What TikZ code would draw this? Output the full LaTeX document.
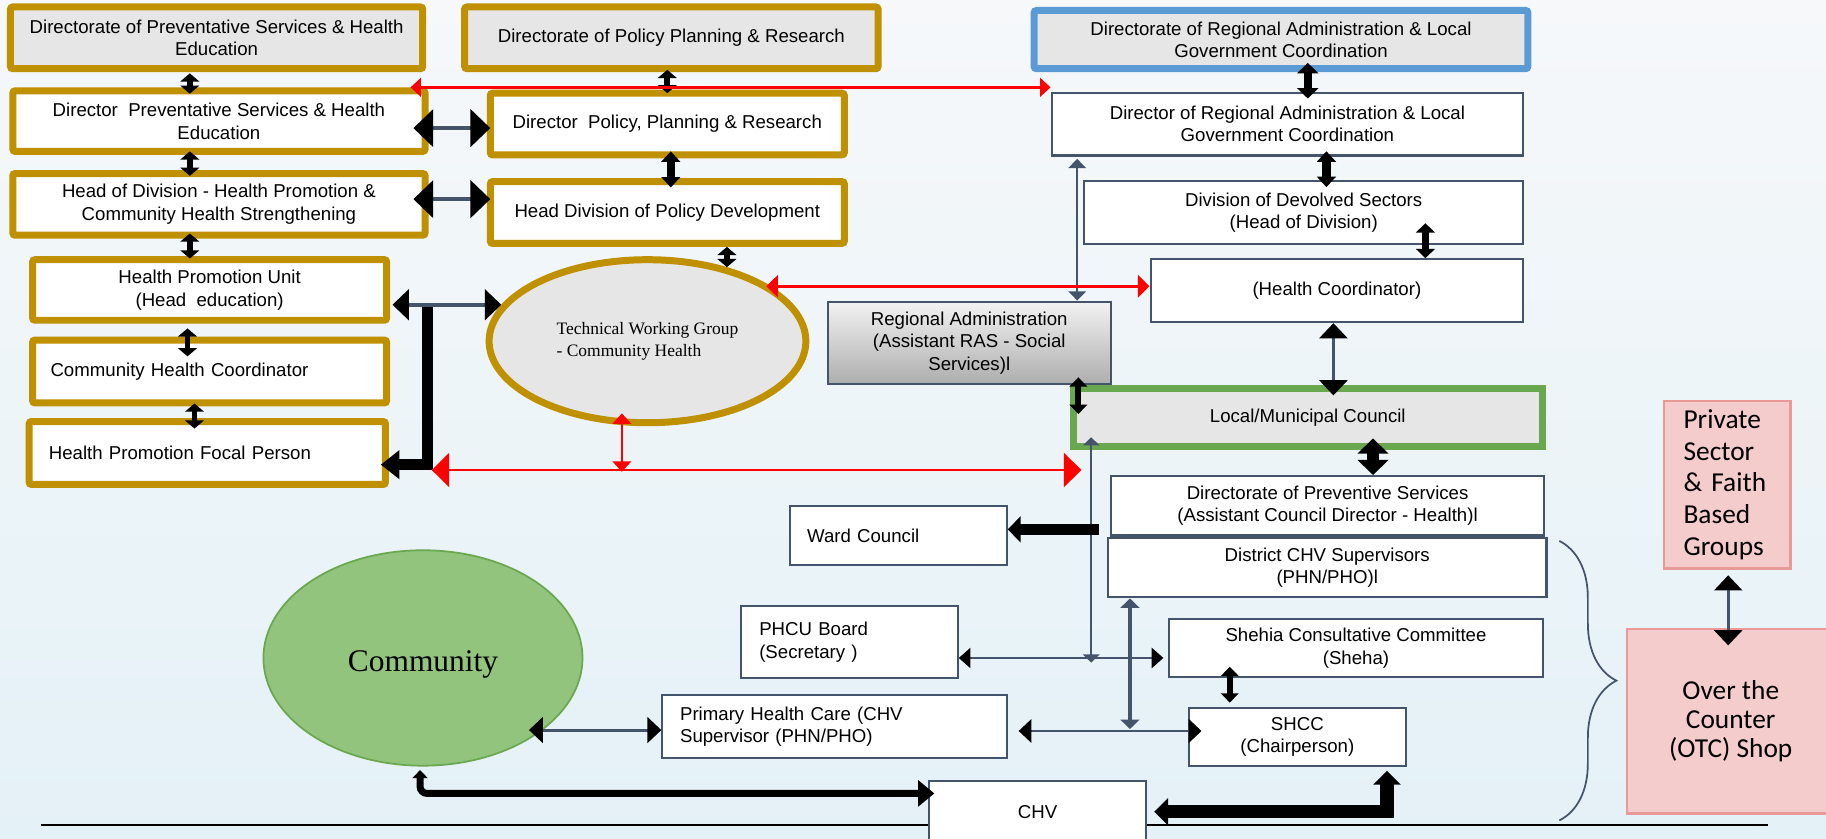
\documentclass[tikz,border=0pt]{standalone}
\usepackage{fontspec}
\setmainfont{Liberation Sans}
\newfontfamily\serifrm{Liberation Serif}
\newfontfamily\calibri{Carlito}
\usetikzlibrary{arrows.meta,shapes.geometric,decorations.pathreplacing,calc}
\definecolor{gold}{HTML}{BF9000}
\definecolor{bluebd}{HTML}{5B9BD5}
\definecolor{greenbd}{HTML}{6AA84F}
\definecolor{slate}{HTML}{44546A}
\definecolor{boxgray}{HTML}{E6E6E6}
\definecolor{pinkfill}{HTML}{F4CCCC}
\definecolor{pinkbd}{HTML}{EA9999}
\definecolor{commfill}{HTML}{93C47D}
\definecolor{commbd}{HTML}{6AA84F}
\definecolor{bgtop}{HTML}{F6F8FA}
\definecolor{bgbot}{HTML}{E4F1F7}
\definecolor{redln}{HTML}{FF0000}
\begin{document}
\begin{tikzpicture}[x=1pt,y=-1pt,
  txt/.style={font=\fontsize{16}{19.3}\selectfont},
  base/.style={rectangle, inner sep=0pt, align=center, txt, text=black},
  goldbox/.style={base, draw=gold, line width=6pt, fill=white, rounded corners=2pt},
  thinbox/.style={base, draw=slate, line width=1.8pt, fill=white},
  fat/.style n args={3}{draw=black, line width=#1pt, arrows={Triangle[width=#2pt,length=#3pt]-Triangle[width=#2pt,length=#3pt]}},
  bighead/.style n args={3}{draw=slate, line width=#1pt, arrows={Triangle[width=#2pt,length=#3pt,color=black]-Triangle[width=#2pt,length=#3pt,color=black]}},
  thinarr/.style n args={3}{draw=slate, line width=#1pt, arrows={Triangle[width=#2pt,length=#3pt]-Triangle[width=#2pt,length=#3pt]}},
  redarr/.style n args={2}{draw=redln, line width=2.3pt, arrows={Triangle[width=#1pt,length=#2pt]-Triangle[width=#1pt,length=#2pt]}},
]
\useasboundingbox (0,0) rectangle (1568,720);
\clip (0,0) rectangle (1568,720);
\shade[top color=bgtop, bottom color=bgbot] (0,0) rectangle (1568,720);

% bottom rule
\draw[black, line width=2.2pt] (35,708.5) -- (1518,708.5);

% ---------- left (gold) column ----------
\node[goldbox, fill=boxgray, minimum width=354pt, minimum height=53pt] (b1) at (186,32.5) {Directorate of Preventative Services \& Health\\Education};
\node[goldbox, fill=boxgray, minimum width=355pt, minimum height=53pt] (b2) at (576.5,32.5) {Directorate of Policy Planning \& Research};
\node[goldbox, minimum width=354pt, minimum height=52pt] (b3) at (188,104) {Director\ \ Preventative Services \& Health\\Education};
\node[goldbox, minimum width=304pt, minimum height=53pt] (b4) at (573,106.5) {Director\ \ Policy, Planning \& Research};
\node[goldbox, minimum width=354pt, minimum height=53pt] (b5) at (188,175.5) {Head of Division - Health Promotion \&\\Community Health Strengthening};
\node[goldbox, minimum width=304pt, minimum height=53pt] (b6) at (573,182.5) {Head Division of Policy Development};
\node[goldbox, minimum width=304pt, minimum height=52pt] (b7) at (180,249) {Health Promotion Unit\\(Head\ \ education)};
\node[goldbox, minimum height=54pt, text width=273.2pt, inner xsep=15.4pt, align=left] (b8) at (180,319) {Community Health Coordinator};
\node[goldbox, minimum height=54pt, text width=272pt, inner xsep=17pt, align=left] (b9) at (178,389) {Health Promotion Focal Person};
\node[ellipse, draw=gold, line width=6pt, fill=boxgray, minimum width=272pt, minimum height=140pt, inner sep=0pt, align=left, font=\serifrm\fontsize{15}{18.6}\selectfont] (twg) at (556,293) {Technical Working Group\\- Community Health};

% ---------- right column ----------
\node[base, draw=bluebd, line width=6pt, fill=boxgray, rounded corners=2pt, minimum width=424pt, minimum height=50pt] (b11) at (1100,34) {Directorate of Regional Administration \& Local\\Government Coordination};
\node[thinbox, minimum width=405pt, minimum height=54pt] (b12) at (1105.5,106.5) {Director of Regional Administration \& Local\\Government Coordination};
\node[thinbox, minimum width=377pt, minimum height=54pt] (b13) at (1119.5,182.6) {Division of Devolved Sectors\\(Head of Division)};
\node[thinbox, minimum width=320pt, minimum height=54pt] (b14) at (1148,249.6) {(Health Coordinator)};
\node[thinbox, top color=white!95!black, bottom color=black!32, minimum width=243pt, minimum height=71pt] (b15) at (832.3,294.5) {Regional Administration\\(Assistant RAS - Social\\Services)l};
\node[base, draw=greenbd, line width=6pt, fill=boxgray, minimum width=403pt, minimum height=50pt] (b16) at (1123,358.5) {Local/Municipal Council};
\node[thinbox, minimum width=372pt, minimum height=51pt] (b17) at (1140,434.3) {Directorate of Preventive Services\\(Assistant Council Director - Health)l};
\node[thinbox, minimum height=50.5pt, text width=156.8pt, inner xsep=14.6pt, align=left] (ward) at (771.5,459.7) {Ward Council};
\node[thinbox, minimum width=376.6pt, minimum height=50.8pt] (b19) at (1139.7,487.6) {District CHV Supervisors\\(PHN/PHO)l};
\node[thinbox, minimum height=62pt, text width=154.4pt, inner xsep=16pt, align=left] (phcu) at (729.2,551.5) {PHCU Board\\(Secretary )};
\node[thinbox, minimum width=321pt, minimum height=50.3pt] (shehia) at (1164.4,556.5) {Shehia Consultative Committee\\(Sheha)};
\node[thinbox, minimum height=54pt, text width=265.4pt, inner xsep=15.2pt, align=left] (phc) at (716.7,624) {Primary Health Care (CHV\\Supervisor (PHN/PHO)};
\node[thinbox, minimum width=186.7pt, minimum height=50.3pt] (shcc) at (1114,632.8) {SHCC\\(Chairperson)};
\node[thinbox, minimum width=186.5pt, minimum height=52pt] (chv) at (891,697) {CHV};
\node[ellipse, draw=commbd, line width=1.5pt, fill=commfill, minimum width=274pt, minimum height=185pt, inner sep=0pt, font=\serifrm\fontsize{27}{30}\selectfont] (comm) at (363.2,565) {\raisebox{-6pt}[\height][\depth]{Community}};
\node[rectangle, draw=pinkbd, line width=2pt, fill=pinkfill, minimum height=143.7pt, text width=75pt, inner xsep=16.8pt, inner ysep=0pt, align=left, font=\calibri\fontsize{23.5}{27.3}\selectfont] (p1) at (1483.2,416.2) {Private\\Sector\\\& Faith\\Based\\Groups};
\node[rectangle, draw=pinkbd, line width=2pt, fill=pinkfill, minimum width=177.7pt, minimum height=158.3pt, inner sep=0pt, align=center, font=\calibri\fontsize{23.5}{25}\selectfont] (otc) at (1486.2,619.3) {Over the\\Counter\\(OTC) Shop};

% brace
\draw[slate, line width=1.5pt, decorate, decoration={brace, amplitude=49pt}] (1339,464.5) -- (1339,704.5);

% ---------- free-end coordinates ----------
\coordinate (kl) at (352.5,75);
\coordinate (ml) at (370.7,403.6);
\coordinate (mr) at (928.6,403.6);
\coordinate (pst) at (367,263.4);
\coordinate (pcorner) at (367,399);
\coordinate (yst) at (944,454.6);
\coordinate (xend) at (937,569);
\coordinate (aaend) at (970.3,626);
\coordinate (bbl) at (874.7,627.7);
\coordinate (eecorner) at (360.7,681.3);
\coordinate (ffcorner) at (1191,697);

% ---------- thin / big-head connectors ----------
\draw[bighead={3}{32}{17}] ($(b3.east |- 0,110)+(-13,0)$) -- ($(b4.west |- 0,110)+(3,0)$);
\draw[bighead={3}{32}{17}] ($(b5.east |- 0,171)+(-13,0)$) -- ($(b6.west |- 0,171)+(3,0)$);
\draw[bighead={3}{26}{14}] ($(b7.east |- twg.166.9)+(2,0)$) -- (twg.166.9);
\draw[bighead={2.5}{24}{13}] (b14.south -| 1145,0) -- ($(b16.north -| 1145,0)+(0,9)$);
\draw[bighead={2.5}{17}{10}] (phcu.east |- 0,565) -- ($(shehia.west |- 0,565)+(-4,0)$);
\draw[bighead={2.5}{20}{11}] (bbl) -- ($(shcc.west |- bbl)+(12,0)$);
\draw[bighead={2.5}{22}{12}] ($(comm.-31.4)+(-12,0)$) -- (phc.west |- comm.-31.4);
\draw[bighead={2.5}{24}{13}] ($(p1.south -| 1484,0)+(0,5)$) -- ($(otc.north -| 1484,0)+(0,15)$);

\draw[thinarr={2}{15}{8}] ($(b12.south -| 925,0)+(0,2)$) -- (b15.north -| 925,0);
\draw[thinarr={2}{14}{7}] ($(b16.south -| 937,0)+(0,-11)$) -- (xend);
\draw[thinarr={2.8}{16}{8}] (b19.south -| aaend) -- (aaend);

% ---------- fat double arrows ----------
\draw[fat={5}{16}{7}] ($(b1.south -| 163,0)+(0,1)$) -- ($(b3.north -| 163,0)+(0,5.5)$);
\draw[fat={5}{16}{7}] ($(b3.south -| 163,0)+(0,-3)$) -- ($(b5.north -| 163,0)+(0,5)$);
\draw[fat={5}{16}{7}] ($(b5.south -| 163,0)+(0,-4.5)$) -- ($(b7.north -| 163,0)+(0,2)$);
\draw[fat={5}{16}{7}] ($(b7.south -| 161,0)+(0,4)$) -- ($(b8.north -| 161,0)+(0,17)$);
\draw[fat={5}{16}{7}] ($(b8.south -| 167,0)+(0,-2.5)$) -- ($(b9.north -| 167,0)+(0,9)$);
\draw[fat={5}{16}{7}] ($(b2.south -| 573,0)+(0,-2)$) -- ($(b4.north -| 573,0)+(0,3)$);
\draw[fat={7}{16}{9}] ($(b4.south -| 576,0)+(0,-6)$) -- ($(b6.north -| 576,0)+(0,8)$);
\draw[fat={5}{16}{7}] (b6.south -| twg.43.7) -- (twg.43.7);
\draw[fat={7}{18}{9}] ($(b11.south -| 1123,0)+(0,-8)$) -- ($(b12.north -| 1123,0)+(0,6)$);
\draw[fat={7}{16}{9}] ($(b12.south -| 1139,0)+(0,-4.5)$) -- ($(b13.north -| 1139,0)+(0,6)$);
\draw[fat={6}{16}{8}] ($(b13.south -| 1224,0)+(0,-18.8)$) -- (b14.north -| 1224,0);
\draw[fat={5}{15}{8}] ($(b15.south -| 926,0)+(0,-6.9)$) -- ($(b16.north -| 926,0)+(0,25)$);
\draw[fat={11}{26}{13}] ($(b16.south -| 1179,0)+(0,-10)$) -- (b17.north -| 1179,0);
\draw[fat={5}{15}{8}] ($(shehia.south -| 1056,0)+(0,-10)$) -- ($(shcc.north -| 1056,0)+(0,-3.4)$);

% ---------- thick elbow arrows ----------
\draw[black, line width=10pt, arrows={-Triangle[width=24pt,length=16pt]}] (pst) -- (pcorner) -- ($(b9.east |- pcorner)+(-7,0)$);
\draw[black, line width=10pt, arrows={-Triangle[width=22pt,length=11pt]}] (yst) -- (ward.east |- yst);
\draw[black, line width=6pt, rounded corners=6pt, arrows={Triangle[width=13pt,length=7pt]-Triangle[width=22pt,length=14pt]}] ($(comm.south)+(-2.5,3)$) -- (eecorner) -- ($(chv.west |- eecorner)+(5.5,0)$);
\draw[black, line width=11.5pt, arrows={Triangle[width=23pt,length=12pt]-Triangle[width=23pt,length=12pt]}] ($(chv.east |- ffcorner)+(6,0)$) -- (ffcorner) -- ($(shcc.south -| ffcorner)+(0,3)$);

% ---------- red arrows ----------
\draw[redarr={16}{9}] (kl) -- (b12.west |- kl);
\draw[redarr={19}{10}] ($(twg.24.9)+(-4,0)$) -- (b14.west |- twg.24.9);
\draw[redarr={29}{15}] (ml) -- (mr);
\draw[redarr={16}{9}] ($(twg.south -| 534,0)+(0,-11)$) -- ($(ml -| 534,0)+(0,1.5)$);
\end{tikzpicture}
\end{document}
